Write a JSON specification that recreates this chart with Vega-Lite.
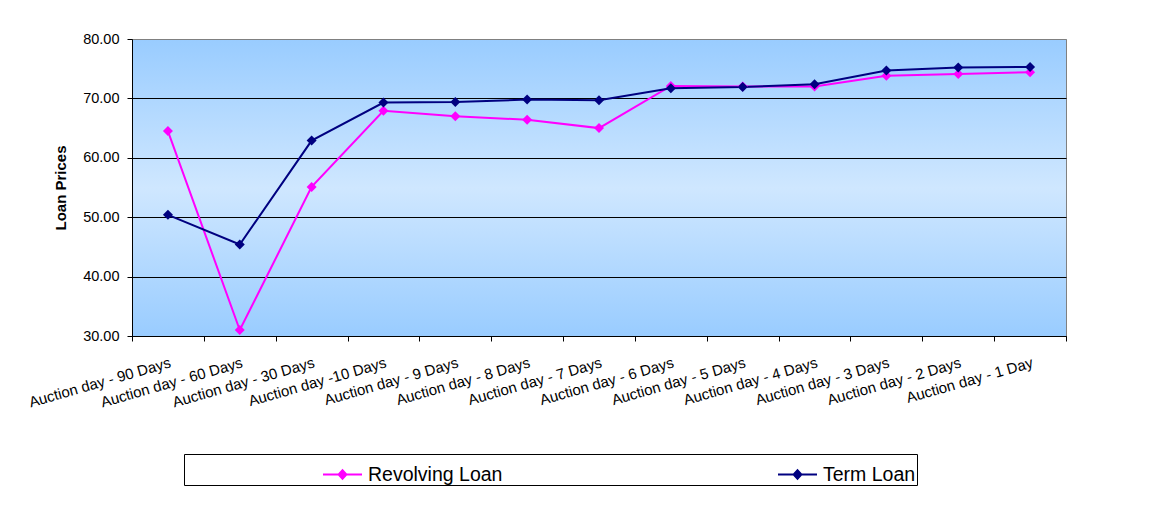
{
  "$schema": "https://vega.github.io/schema/vega-lite/v6.json",
  "width": 934,
  "height": 297,
  "autosize": {"type": "none"},
  "padding": {"left": 132, "top": 39, "right": 90, "bottom": 188},
  "background": "white",
  "data": {
    "values": [
      {"day": "Auction day - 90 Days", "series": "Revolving Loan", "price": 64.5},
      {"day": "Auction day - 60 Days", "series": "Revolving Loan", "price": 31.0},
      {"day": "Auction day - 30 Days", "series": "Revolving Loan", "price": 55.1},
      {"day": "Auction day -10 Days", "series": "Revolving Loan", "price": 67.9},
      {"day": "Auction day - 9 Days", "series": "Revolving Loan", "price": 67.0},
      {"day": "Auction day - 8 Days", "series": "Revolving Loan", "price": 66.4},
      {"day": "Auction day - 7 Days", "series": "Revolving Loan", "price": 65.0},
      {"day": "Auction day - 6 Days", "series": "Revolving Loan", "price": 72.1},
      {"day": "Auction day - 5 Days", "series": "Revolving Loan", "price": 72.0},
      {"day": "Auction day - 4 Days", "series": "Revolving Loan", "price": 72.0},
      {"day": "Auction day - 3 Days", "series": "Revolving Loan", "price": 73.8},
      {"day": "Auction day - 2 Days", "series": "Revolving Loan", "price": 74.1},
      {"day": "Auction day - 1 Day", "series": "Revolving Loan", "price": 74.4},
      {"day": "Auction day - 90 Days", "series": "Term Loan", "price": 50.4},
      {"day": "Auction day - 60 Days", "series": "Term Loan", "price": 45.4},
      {"day": "Auction day - 30 Days", "series": "Term Loan", "price": 62.9},
      {"day": "Auction day -10 Days", "series": "Term Loan", "price": 69.3},
      {"day": "Auction day - 9 Days", "series": "Term Loan", "price": 69.4},
      {"day": "Auction day - 8 Days", "series": "Term Loan", "price": 69.8},
      {"day": "Auction day - 7 Days", "series": "Term Loan", "price": 69.7},
      {"day": "Auction day - 6 Days", "series": "Term Loan", "price": 71.7},
      {"day": "Auction day - 5 Days", "series": "Term Loan", "price": 71.9},
      {"day": "Auction day - 4 Days", "series": "Term Loan", "price": 72.4},
      {"day": "Auction day - 3 Days", "series": "Term Loan", "price": 74.7},
      {"day": "Auction day - 2 Days", "series": "Term Loan", "price": 75.2},
      {"day": "Auction day - 1 Day", "series": "Term Loan", "price": 75.3}
    ]
  },
  "encoding": {
    "x": {
      "field": "day",
      "type": "nominal",
      "sort": null,
      "scale": {"paddingInner": 0, "paddingOuter": 0},
      "axis": {
        "title": null,
        "tickBand": "extent",
        "labelAngle": -16,
        "labelAlign": "right",
        "labelBaseline": "top",
        "labelPadding": 14,
        "labelLimit": 0,
        "labelFontSize": 15,
        "labelOverlap": false,
        "grid": false
      }
    },
    "y": {
      "field": "price",
      "type": "quantitative",
      "scale": {"domain": [30, 80], "nice": false, "zero": false},
      "axis": {
        "title": "Loan Prices",
        "values": [30, 40, 50, 60, 70, 80],
        "format": ".2f",
        "labelFontSize": 14.5,
        "labelPadding": 8,
        "titleFontSize": 15,
        "titleFontWeight": "bold",
        "titlePadding": 14,
        "grid": true,
        "gridColor": {"condition": {"test": "datum.value == 80", "value": "#808080"}, "value": "#000000"}
      }
    }
  },
  "layer": [
    {
      "mark": {"type": "line", "strokeWidth": 2},
      "encoding": {
        "color": {
          "field": "series",
          "type": "nominal",
          "legend": null,
          "scale": {"domain": ["Revolving Loan", "Term Loan"], "range": ["#FF00FF", "#000080"]}
        }
      }
    },
    {
      "mark": {"type": "point", "shape": "diamond", "filled": true, "size": 100, "opacity": 1},
      "encoding": {
        "color": {
          "field": "series",
          "type": "nominal",
          "scale": {"domain": ["Revolving Loan", "Term Loan"], "range": ["#FF00FF", "#000080"]},
          "legend": {
            "title": null,
            "orient": "none",
            "legendX": 52,
            "legendY": 415,
            "direction": "horizontal",
            "columns": 2,
            "columnPadding": 137,
            "padding": 1,
            "strokeColor": "#000000",
            "fillColor": "#FFFFFF",
            "symbolType": "M-1,-0.05L1,-0.05L1,0.05L-1,0.05ZM0,-0.3L0.27,0L0,0.3L-0.27,0Z",
            "symbolSize": 1521,
            "symbolStrokeWidth": 0,
            "symbolOpacity": 1,
            "symbolOffset": 138,
            "labelOffset": 6,
            "labelFontSize": 19.5,
            "labelColor": "#000000",
            "labelLimit": 0
          }
        }
      }
    }
  ],
  "resolve": {"legend": {"color": "independent"}},
  "config": {
    "font": "Liberation Sans",
    "view": {
      "stroke": "#808080",
      "strokeWidth": 1,
      "fill": {
        "gradient": "linear",
        "x1": 0, "y1": 0, "x2": 0, "y2": 1,
        "stops": [
          {"offset": 0, "color": "#99CCFF"},
          {"offset": 0.5, "color": "#CFE7FF"},
          {"offset": 1, "color": "#99CCFF"}
        ]
      }
    },
    "axis": {
      "domainColor": "#000000",
      "tickColor": "#000000",
      "tickSize": 5,
      "labelColor": "#000000",
      "titleColor": "#000000",
      "labelFont": "Liberation Sans",
      "titleFont": "Liberation Sans"
    },
    "legend": {"labelFont": "Liberation Sans"}
  }
}
